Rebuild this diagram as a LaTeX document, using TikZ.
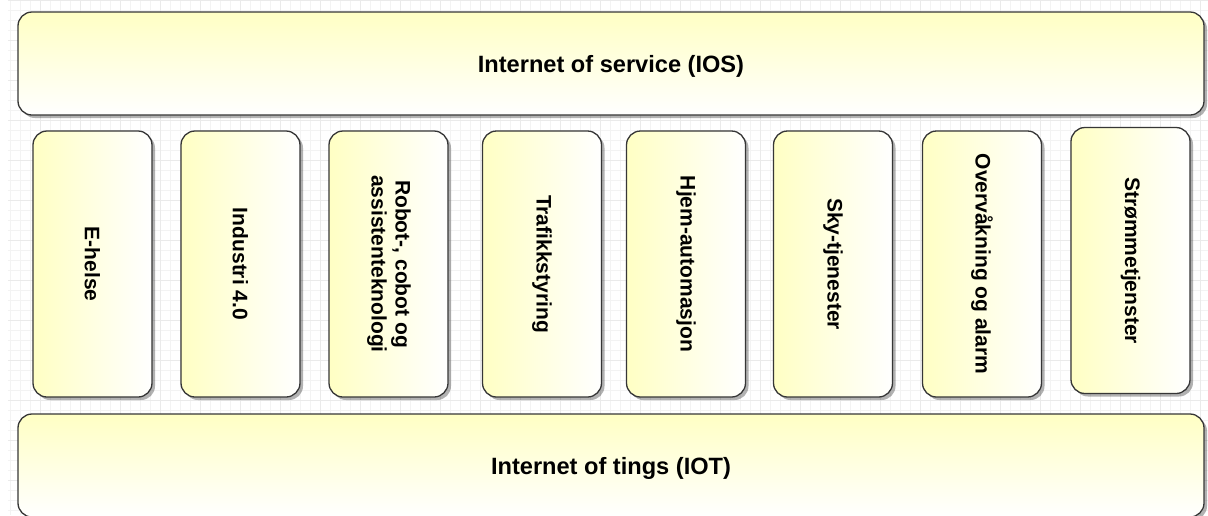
\documentclass[tikz,border=0pt]{standalone}
\usepackage{fontspec}
\setmainfont{Liberation Sans}
\usepackage{graphicx}
\usetikzlibrary{shadows}
\definecolor{paleyellow}{HTML}{FFFFC4}
\definecolor{darkline}{HTML}{363636}
\definecolor{gridminor}{HTML}{F3F3F3}
\definecolor{gridmajor}{HTML}{EAEAEA}
\newcommand{\vtext}[1]{\rotatebox{-90}{#1}}
\tikzset{x=1pt, y=-1pt,
layer/.style={ % Wide box for the IOS and IOT layers
draw=darkline, line width=1.3pt,
rounded corners=14pt,
top color=paleyellow, bottom color=white,
minimum width=1186pt, minimum height=103pt,
text depth=0pt,
font=\bfseries\fontsize{23.6}{27}\selectfont,
drop shadow={shadow xshift=3pt, shadow yshift=-3pt, opacity=0.3, fill=black}},
area/.style={ % Tall box for one service area
draw=darkline, line width=1.3pt,
rounded corners=14pt,
left color=paleyellow, right color=white,
minimum width=119pt, minimum height=266pt,
font=\bfseries\fontsize{21}{24}\selectfont,
drop shadow={shadow xshift=3pt, shadow yshift=-3pt, opacity=0.3, fill=black}}}
\begin{document}
\begin{tikzpicture}
	\useasboundingbox (0,0) rectangle (1208,515);
	\fill[white] (0,0) rectangle (1208,515);
	\draw[gridminor, line width=0.6pt, step=10pt] (8,0) grid (1208,515);
	\draw[gridmajor, line width=0.6pt, step=40pt] (8,0) grid (1208,515);
	\node[layer] (ios) at (611,63.5) {Internet of service (IOS)};
	\node[area] (ehelse) at (92.5,264) {\vtext{E-helse}};
	\node[area] (industri) at (240.5,264) {\vtext{Industri 4.0}};
	\node[area] (robot) at (388.5,264) {\vtext{\begin{tabular}{@{}c@{}}Robot-, cobot og\\assistenteknologi\end{tabular}}};
	\node[area] (trafikk) at (542,264) {\vtext{Trafikkstyring}};
	\node[area] (hjem) at (686,264) {\vtext{Hjem-automasjon}};
	\node[area] (sky) at (833,264) {\vtext{Sky-tjenester}};
	\node[area] (overvaak) at (982,264) {\vtext{Overvåkning og alarm}};
	\node[area] (stroem) at (1130.5,260.5) {\vtext{Strømmetjenster}};
	\node[layer] (iot) at (611,465.5) {Internet of tings (IOT)};
\end{tikzpicture}
\end{document}
